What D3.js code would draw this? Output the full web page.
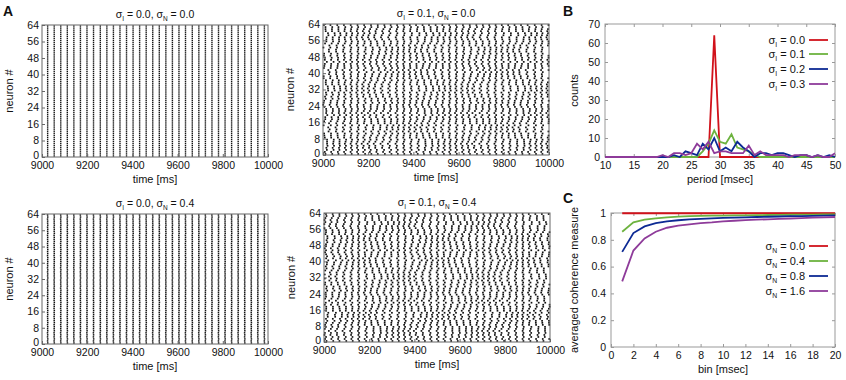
<!DOCTYPE html>
<html><head><meta charset="utf-8">
<script src="https://cdn.jsdelivr.net/npm/d3@7/dist/d3.min.js"></script>
<style>
body{margin:0;background:#fff;}
svg{display:block;font-family:"Liberation Sans",Arial,Helvetica,sans-serif;}
</style></head><body>
<svg id="c" width="846" height="380"></svg>
<script>
// ---------------- DATA ----------------
const neuronTicks = [0, 8, 16, 24, 32, 40, 48, 56, 64];
const timeTicks = [9000, 9200, 9400, 9600, 9800, 10000];
const nNeurons = 64;

// population cycle times (ms) of the synchronous panels
const syncColumns = [9025, 9054, 9083, 9112, 9141, 9170, 9199, 9228, 9258, 9287, 9316, 9345,
  9374, 9403, 9432, 9461, 9490, 9519, 9548, 9577, 9606, 9635, 9665, 9694, 9723, 9752, 9781,
  9810, 9839, 9868, 9897, 9926, 9955, 9984];
// tiny per-neuron jitter (ms) for sigma_N = 0.4, sigma_I = 0.0
const noiseJitter = [0.4,-0.3,0.6,-0.5,0.2,-0.6,0.5,-0.2,0.3,-0.4,0.6,-0.1,0.2,-0.5,0.4,-0.3,
  0.5,-0.6,0.1,-0.2,0.6,-0.4,0.3,-0.5,0.2,-0.1,0.5,-0.6,0.4,-0.3,0.1,-0.5,
  0.6,-0.2,0.3,-0.4,0.5,-0.6,0.2,-0.3,0.4,-0.1,0.6,-0.5,0.3,-0.2,0.5,-0.4,
  0.1,-0.6,0.4,-0.3,0.2,-0.5,0.6,-0.1,0.3,-0.4,0.5,-0.2,0.1,-0.6,0.4,-0.3];

// cycle times of the heterogeneous panels
const hetColumns = [9008, 9037, 9066, 9095, 9124, 9153, 9182, 9211, 9240, 9270, 9299, 9328,
  9357, 9386, 9415, 9444, 9473, 9502, 9531, 9560, 9589, 9619, 9648, 9677, 9706, 9735, 9764,
  9793, 9822, 9851, 9880, 9909, 9939, 9968, 9997];
// per-neuron phase lags (ms) read as wave shape
const lagWave = [0,2,5,8,10,13,9,6,2,-2,-6,-8,-11,-14,-10,-7,-3,0,4,7,10,6,3,-1,-4,-7,-3,0,3,6,9,12,
  15,11,8,4,1,-3,-6,-10,-13,-9,-6,-2,2,5,3,0,-3,-6,-9,-12,-8,-4,0,4,8,11,14,10,6,3,0,-3];
const lagScatter = [3,-2,4,-1,2,-3,1,4,-2,0,3,-4,2,-1,5,-3,0,2,-2,4,-4,1,3,-1,-3,2,0,4,-2,1,-4,3,
  -1,2,-3,0,4,-2,1,-1,3,-4,2,0,-2,4,-3,1,-1,3,-2,0,2,-4,1,3,-1,-3,2,4,-2,0,3,-1];
// per-cycle weights of the wave shape (two panels)
const waveWeightA = [1,0.9,0.7,0.4,0.1,-0.2,-0.5,-0.8,-1,-0.9,-0.6,-0.3,0,0.3,0.6,0.9,1,0.8,0.5,
  0.2,-0.1,-0.4,-0.7,-1,-0.8,-0.5,-0.2,0.2,0.5,0.8,1,0.7,0.3,-0.1,-0.5];
const waveWeightB = [-0.6,-0.9,-1,-0.7,-0.4,0,0.4,0.8,1,0.8,0.5,0.1,-0.3,-0.7,-1,-0.8,-0.4,0,0.4,
  0.8,1,0.9,0.6,0.2,-0.2,-0.6,-0.9,-1,-0.7,-0.3,0.1,0.5,0.9,1,0.7];
const scatterWeight = [1,1.3,0.8,1.2,1,0.9,1.4,1,0.8,1.2,1.3,1,0.9,1.1,1.4,0.8,1,1.2,1.3,0.9,1,1.1,0.8,
  1.4,1.2,1,0.9,1.3,1.1,1,0.8,1.4,1.2,1,0.9];

// Panel B: period histogram
const periodBins = d3.range(10, 51); // 10..50 msec
const periodTicks = [10, 15, 20, 25, 30, 35, 40, 45, 50];
const countTicks = [0, 10, 20, 30, 40, 50, 60, 70];
const countsI00 = [0,0,0,0,0,0,0,0,0,0,0,0,0,0,0,0,0,0,0,64,0,0,0,0,0,0,0,0,0,0,0,0,0,0,0,0,0,0,0,0,0];
const countsI01 = [0,0,0,0,0,0,0,0,0,0,0,0,0,0,0,0,0,3,7,14,8,7,12,5,4,3,1,0,0,0,0,0,0,0,0,0,0,0,0,0,0];
const countsI02 = [0,0,0,0,0,0,0,0,0,0,0,0,1,0,3,2,1,7,4,10,3,5,3,8,5,3,0,2,2,1,2,2,1,0,1,1,0,1,0,1,0];
const countsI03 = [0,0,0,0,0,0,0,0,0,0,1,0,2,2,1,2,7,4,8,2,3,3,2,2,2,6,1,3,1,1,1,1,0,1,1,1,0,1,0,0,2];
const periodLabels = ["0.0", "0.1", "0.2", "0.3"];

// Panel C: coherence vs bin
const binSizes = d3.range(1, 21);
const binTicks = [0, 2, 4, 6, 8, 10, 12, 14, 16, 18, 20];
const cohTicks = [0, 0.2, 0.4, 0.6, 0.8, 1];
const cohN00 = [0.998,0.998,0.998,0.998,0.998,0.998,0.998,0.998,0.998,0.998,0.998,0.998,0.998,0.998,0.998,0.998,0.998,0.998,0.998,0.998];
const cohN04 = [0.86,0.93,0.95,0.96,0.968,0.973,0.976,0.978,0.98,0.981,0.982,0.983,0.984,0.985,0.986,0.987,0.988,0.988,0.989,0.99];
const cohN08 = [0.71,0.85,0.90,0.925,0.938,0.946,0.952,0.956,0.96,0.963,0.966,0.968,0.97,0.972,0.974,0.976,0.977,0.978,0.98,0.982];
const cohN16 = [0.49,0.72,0.81,0.86,0.89,0.905,0.915,0.925,0.93,0.937,0.942,0.947,0.95,0.953,0.956,0.959,0.962,0.965,0.968,0.97];
const cohLabels = ["0.0", "0.4", "0.8", "1.6"];

const lineColors = ["#d1121b", "#6db33f", "#0d2a94", "#8e3b9a"];

// ---------------- DRAW ----------------
const svg = d3.select("#c");
const FONT = 10.5;

function sigmaText(sel, sub, rest) {
  sel.append("tspan").text("σ");
  sel.append("tspan").attr("font-size", "0.62em").attr("dy", 3).text(sub);
  sel.append("tspan").attr("dy", -3).text(rest);
}

function rasterPanel(box, title, spikes, dot) {
  const [x0, x1, y0, y1] = box; // left,right,top,bottom
  const x = d3.scaleLinear().domain([9000, 10000]).range([x0, x1]);
  const y = d3.scaleLinear().domain([0, 64]).range([y1, y0]);
  const g = svg.append("g");
  g.append("g").selectAll("rect").data(spikes.filter(s => s.t >= 9001 && s.t <= 9999))
    .join("rect")
    .attr("x", d => x(d.t) - dot / 2).attr("y", d => y(d.n + 0.5) - dot / 2)
    .attr("width", dot).attr("height", dot).attr("fill", "#111");
  g.append("rect").attr("x", x0).attr("y", y0).attr("width", x1 - x0).attr("height", y1 - y0)
    .attr("fill", "none").attr("stroke", "#666").attr("stroke-width", 1);
  const ax = g.append("g").attr("transform", `translate(0,${y1})`)
    .call(d3.axisBottom(x).tickValues(timeTicks).tickSizeInner(-3).tickSizeOuter(0).tickPadding(4).tickFormat(d3.format("d")));
  const ay = g.append("g").attr("transform", `translate(${x0},0)`)
    .call(d3.axisLeft(y).tickValues(neuronTicks).tickSizeInner(-3).tickSizeOuter(0).tickPadding(3));
  [ax, ay].forEach(a => {
    a.select(".domain").remove();
    a.selectAll("line").attr("stroke", "#666");
    a.selectAll("text").attr("font-size", FONT).attr("fill", "#111").attr("font-family", null);
  });
  ax.selectAll("text").attr("dy", "0.78em").attr("y", 4);
  ay.selectAll("text").filter(d => d === 0).attr("dy", "0.1em");
  const t = g.append("text").attr("x", (x0 + x1) / 2).attr("y", y0 - 7)
    .attr("text-anchor", "middle").attr("font-size", 10.5).attr("fill", "#111");
  sigmaText(t, "I", " = " + title[0] + ", ");
  t.append("tspan").text("σ");
  t.append("tspan").attr("font-size", "0.62em").attr("dy", 3).text("N");
  t.append("tspan").attr("dy", -3).text(" = " + title[1]);
  g.append("text").attr("x", (x0 + x1) / 2).attr("y", y1 + 26).attr("text-anchor", "middle")
    .attr("font-size", 11).attr("fill", "#111").text("time [ms]");
  g.append("text").attr("transform", `translate(${x0 - 29},${(y0 + y1) / 2}) rotate(-90)`)
    .attr("text-anchor", "middle").attr("font-size", 11).attr("fill", "#111").text("neuron #");
}

function syncSpikes(cols, jitter) {
  const out = [];
  cols.forEach((c) => { for (let n = 0; n < nNeurons; n++) out.push({ t: c + (jitter ? jitter[n] : 0), n }); });
  return out;
}
function hetSpikes(cols, wW) {
  const out = [];
  cols.forEach((c, k) => {
    for (let n = 0; n < nNeurons; n++) out.push({ t: c + wW[k] * lagWave[n] + scatterWeight[k] * lagScatter[n], n });
  });
  return out;
}

rasterPanel([42, 268, 25, 157], ["0.0", "0.0"], syncSpikes(syncColumns, null), 1.4);
rasterPanel([323, 549, 24, 155], ["0.1", "0.0"], hetSpikes(hetColumns, waveWeightA), 1.7);
rasterPanel([42, 268, 214, 344], ["0.0", "0.4"], syncSpikes(syncColumns, noiseJitter), 1.5);
rasterPanel([324, 550, 213, 342], ["0.1", "0.4"], hetSpikes(hetColumns, waveWeightB), 1.7);

function linePanel(box, xs, xDom, xTicks, yDom, yTicks, series, labels, sub, legendRows, xLabel, yLabel, yFmt) {
  const [x0, x1, y0, y1] = box;
  const x = d3.scaleLinear().domain(xDom).range([x0, x1]);
  const y = d3.scaleLinear().domain(yDom).range([y1, y0]);
  const g = svg.append("g");
  const grid = "#999";
  g.append("rect").attr("x", x0).attr("y", y0).attr("width", x1 - x0).attr("height", y1 - y0)
    .attr("fill", "none").attr("stroke", grid).attr("stroke-width", 1);
  const mk = (axis, tr) => {
    const a = g.append("g").attr("transform", tr).call(axis);
    a.select(".domain").remove();
    a.selectAll("line").attr("stroke", grid);
    a.selectAll("text").attr("font-size", FONT).attr("fill", "#111").attr("font-family", null);
    return a;
  };
  const ax = mk(d3.axisBottom(x).tickValues(xTicks).tickSizeInner(-3).tickSizeOuter(0).tickPadding(4), `translate(0,${y1})`);
  ax.selectAll("text").attr("dy", "0.78em").attr("y", 4);
  mk(d3.axisTop(x).tickValues(xTicks).tickSizeInner(-3).tickSizeOuter(0).tickFormat(""), `translate(0,${y0})`);
  mk(d3.axisLeft(y).tickValues(yTicks).tickSizeInner(-3).tickSizeOuter(0).tickPadding(5).tickFormat(yFmt), `translate(${x0},0)`);
  mk(d3.axisRight(y).tickValues(yTicks).tickSizeInner(-3).tickSizeOuter(0).tickFormat(""), `translate(${x1},0)`);
  const line = d3.line().x((d, i) => x(xs[i])).y(d => y(d));
  const clipId = "clip" + x0 + y0;
  g.append("clipPath").attr("id", clipId).append("rect").attr("x", x0).attr("y", y0 - 2).attr("width", x1 - x0).attr("height", y1 - y0 + 3);
  series.forEach((s, i) => {
    g.append("path").attr("d", line(s)).attr("fill", "none").attr("stroke", lineColors[i])
      .attr("stroke-width", 1.8).attr("clip-path", `url(#${clipId})`).attr("stroke-linejoin", "miter");
  });
  // legend
  labels.forEach((lab, i) => {
    const ly = legendRows[i];
    const t = g.append("text").attr("x", 805).attr("y", ly + 4).attr("text-anchor", "end")
      .attr("font-size", 11).attr("fill", "#111");
    sigmaText(t, sub, " = " + lab);
    g.append("line").attr("x1", 809).attr("x2", 828).attr("y1", ly).attr("y2", ly)
      .attr("stroke", lineColors[i]).attr("stroke-width", 1.8);
  });
  g.append("text").attr("x", (x0 + x1) / 2).attr("y", y1 + 26).attr("text-anchor", "middle")
    .attr("font-size", 11).attr("fill", "#111").text(xLabel);
  g.append("text").attr("transform", `translate(${578},${(y0 + y1) / 2}) rotate(-90)`)
    .attr("text-anchor", "middle").attr("font-size", 11).attr("fill", "#111").text(yLabel);
}

linePanel([605, 835, 24, 157], periodBins, [10, 50], periodTicks, [0, 70], countTicks,
  [countsI00, countsI01, countsI02, countsI03], periodLabels, "I", [40, 54, 69, 84],
  "period [msec]", "counts", d3.format("d"));
linePanel([611, 835, 213, 347], binSizes, [0, 20], binTicks, [0, 1], cohTicks,
  [cohN00, cohN04, cohN08, cohN16], cohLabels, "N", [246, 261, 276, 291],
  "bin [msec]", "averaged coherence measure", d => (d === 0 || d === 1) ? String(d) : d3.format(".1f")(d));

// panel letters
[["A", 3, 16], ["B", 563, 16], ["C", 563, 203]].forEach(([s, x, y]) => {
  svg.append("text").attr("x", x).attr("y", y).attr("font-size", 14).attr("font-weight", "bold")
    .attr("fill", "#111").text(s);
});
</script>
</body></html>
